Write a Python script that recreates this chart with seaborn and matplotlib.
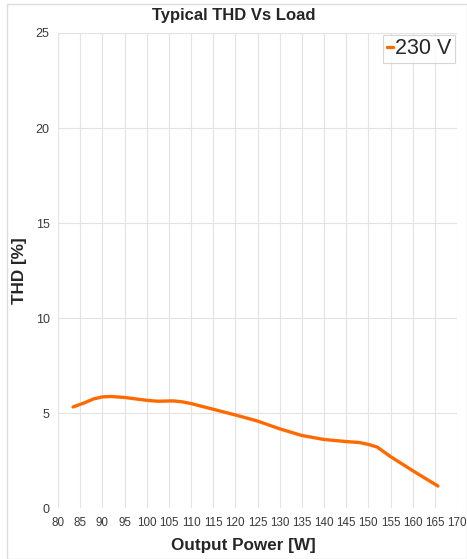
import pandas as pd
import seaborn as sns
import matplotlib.pyplot as plt
from matplotlib.patches import Rectangle

# values
power_w = [83.4, 86, 88, 90, 92, 95, 98, 100, 102.5, 106, 108, 110, 115, 120,
           125, 130, 135, 140, 145, 148, 150, 152, 155, 160, 165.7]
thd_pct = [5.33, 5.55, 5.75, 5.86, 5.88, 5.83, 5.74, 5.68, 5.63, 5.65, 5.60,
           5.51, 5.21, 4.91, 4.59, 4.18, 3.83, 3.62, 3.51, 3.46, 3.36, 3.22,
           2.72, 1.98, 1.17]
series_name = "230 V"
x_ticks = list(range(80, 171, 5))
y_ticks = [0, 5, 10, 15, 20, 25]

df = pd.DataFrame({"power": power_w, "thd": thd_pct, "series": series_name})

sns.set_theme(style="whitegrid")
plt.rcParams['font.family'] = ['Liberation Sans', 'DejaVu Sans']

fig = plt.figure(figsize=(4.67, 5.59), dpi=100)
ax = fig.add_axes([0.1242, 0.0907, 0.8544, 0.8503])

sns.lineplot(data=df, x="power", y="thd", hue="series", palette=["#ff6a00"],
             linewidth=2.4, ax=ax)

ax.set_xlim(80, 170)
ax.set_ylim(0, 25)
ax.set_xticks(x_ticks)
ax.set_yticks(y_ticks)
ax.tick_params(axis="x", labelsize=8.4, colors="#3a3a3a", length=0, pad=6)
ax.tick_params(axis="y", labelsize=9, colors="#3a3a3a", length=0, pad=6)
ax.grid(True, color="#e3e3e3", linewidth=0.8)
for s in ax.spines.values():
    s.set_visible(False)

ax.set_xlabel("Output Power [W]", fontsize=12.3, fontweight="bold", labelpad=7)
ax.xaxis.label.set_position((0.465, 0))
ax.set_ylabel("THD [%]", fontsize=12.3, fontweight="bold", labelpad=6)
fig.text(0.5, 0.972, "Typical THD Vs Load", ha="center", va="center",
         fontsize=12, fontweight="bold")

leg = ax.legend(title=None, loc="upper right", fontsize=15.5, handlelength=0.3,
                handletextpad=0.1, borderpad=0.15, borderaxespad=0.1,
                fancybox=False, frameon=True)
leg.get_frame().set_edgecolor("#cccccc")
leg.get_frame().set_linewidth(0.8)

fig.patches.append(Rectangle((0.014, 0.0), 0.985, 0.993, transform=fig.transFigure,
                             fill=False, edgecolor="#dddddd", linewidth=1))

fig.savefig("out.png", dpi=100)
